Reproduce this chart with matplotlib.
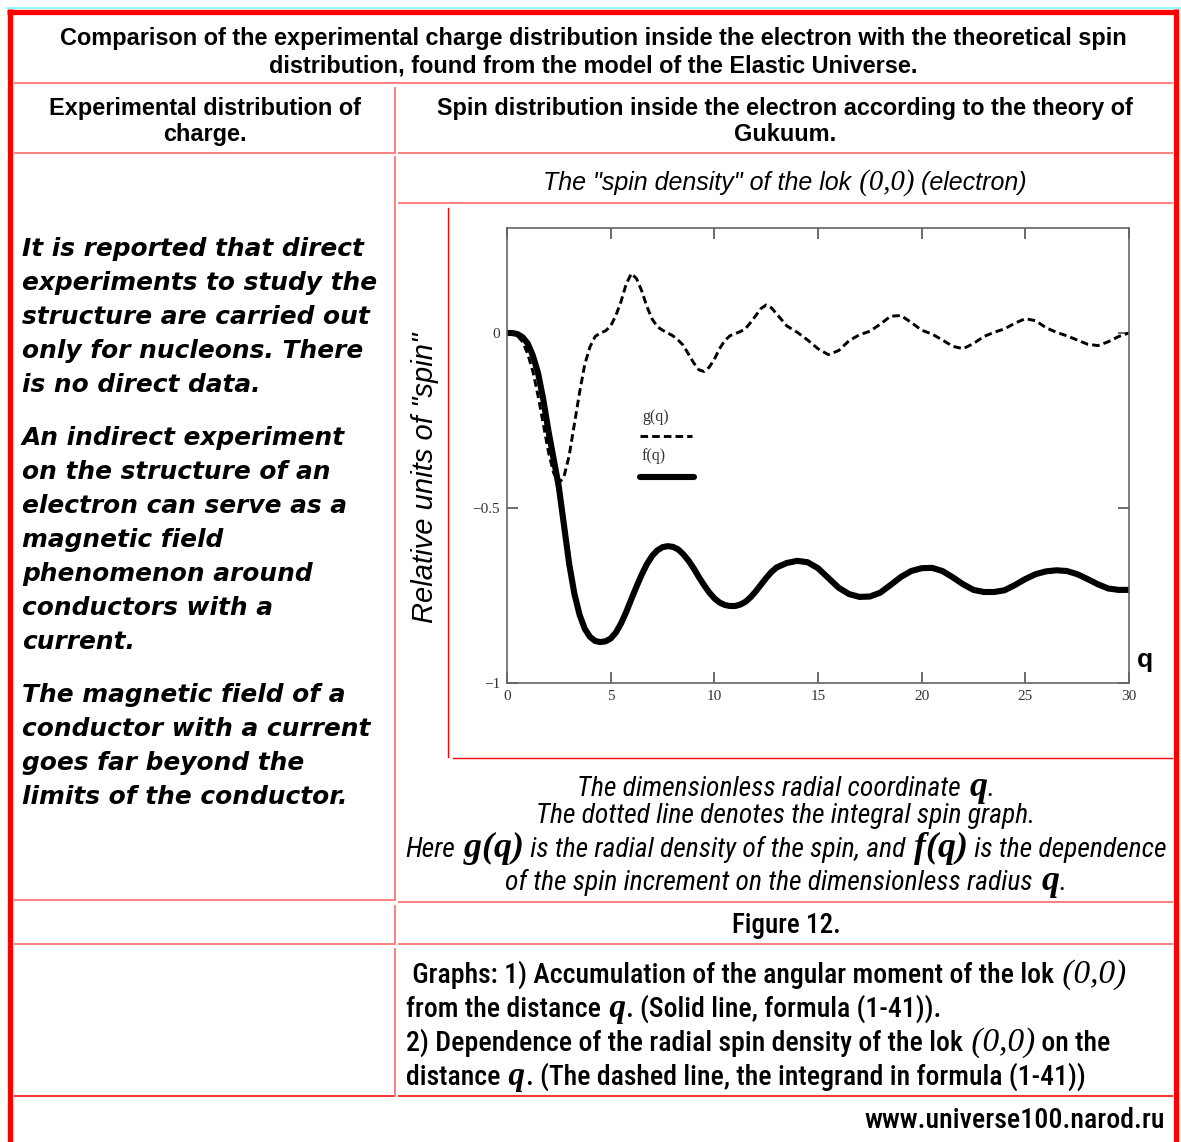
import numpy as np
import matplotlib
matplotlib.use("Agg")
import matplotlib.pyplot as plt
from matplotlib import font_manager

# curve values (finer steps where the curves bend sharply)
q = [0.0, 0.25, 0.5, 0.75, 1.0, 1.25, 1.5, 1.75, 2.0, 2.25, 2.5, 2.75, 3.0, 3.25, 3.5,
     3.75, 4.0, 4.25, 4.5, 4.75, 5.0, 5.25, 5.5, 5.75, 6.0, 6.25, 6.5, 6.75, 7.0, 7.25,
     7.5, 7.75, 8.0, 8.25, 8.5, 8.75, 9.0, 9.25, 9.5, 9.75, 10.0, 10.25, 10.5, 10.75,
     11.0, 11.25, 11.5, 11.75, 12.0, 12.25, 12.5, 12.75, 13.0,
     13.5, 14.0, 14.5, 15.0, 15.5, 16.0, 16.5, 17.0, 17.5, 18.0, 18.5, 19.0, 19.5,
     20.0, 20.5, 21.0, 21.5, 22.0, 22.5, 23.0, 23.5, 24.0, 24.5, 25.0, 25.5, 26.0,
     26.5, 27.0, 27.5, 28.0, 28.5, 29.0, 29.5, 30.0]
f_q = [0.0, 0.0, -0.003, -0.012, -0.03, -0.065, -0.115, -0.19, -0.28, -0.36, -0.44,
       -0.55, -0.66, -0.745, -0.805, -0.845, -0.868, -0.88, -0.883, -0.881, -0.873,
       -0.856, -0.83, -0.797, -0.76, -0.724, -0.69, -0.66, -0.637, -0.621, -0.612,
       -0.609, -0.611, -0.618, -0.632, -0.65, -0.672, -0.697, -0.72, -0.741, -0.758,
       -0.77, -0.777, -0.78, -0.78, -0.776, -0.768, -0.755, -0.738, -0.719, -0.70,
       -0.683, -0.67,
       -0.657, -0.651, -0.655, -0.672, -0.70, -0.728, -0.746, -0.754, -0.753, -0.742,
       -0.72, -0.697, -0.68, -0.672, -0.671, -0.68, -0.698, -0.718, -0.734, -0.74,
       -0.74, -0.735, -0.72, -0.703, -0.689, -0.681, -0.678, -0.68, -0.689, -0.703,
       -0.718, -0.73, -0.734, -0.734]
g_q = [0.0, -0.001, -0.008, -0.025, -0.06, -0.11, -0.18, -0.26, -0.34, -0.40, -0.43,
       -0.41, -0.35, -0.26, -0.17, -0.09, -0.04, -0.01, 0.0, 0.006, 0.02, 0.05, 0.09,
       0.14, 0.17, 0.155, 0.12, 0.075, 0.04, 0.018, 0.008, 0.0, -0.008, -0.02, -0.035,
       -0.06, -0.085, -0.105, -0.11, -0.098, -0.075, -0.045, -0.022, -0.008, -0.002,
       0.004, 0.012, 0.03, 0.05, 0.07, 0.08, 0.072, 0.055,
       0.02, 0.002, -0.02, -0.045, -0.062, -0.05, -0.022, -0.005, 0.005, 0.025, 0.048,
       0.05, 0.03, 0.008, -0.003, -0.02, -0.038, -0.045, -0.03, -0.01, 0.002, 0.012,
       0.028, 0.041, 0.035, 0.015, 0.002, -0.008, -0.02, -0.032, -0.036, -0.025,
       -0.01, 0.0]

x_ticks = [0, 5, 10, 15, 20, 25, 30]
y_ticks = [-1, -0.5, 0]
y_tick_labels = ["\u22121", "\u22120.5", "0"]

title_lines = ["Comparison of the experimental charge distribution inside the electron with the theoretical spin",
               "distribution, found from the model of the Elastic Universe."]
left_head = ["Experimental distribution of", "charge."]
right_head = ["Spin distribution inside the electron according to the theory of", "Gukuum."]
left_paras = [["It is reported that direct", "experiments to study the", "structure are carried out",
               "only for nucleons. There", "is no direct data."],
              ["An indirect experiment", "on the structure of an", "electron can serve as a",
               "magnetic field", "phenomenon around", "conductors with a", "current."],
              ["The magnetic field of a", "conductor with a current", "goes far beyond the",
               "limits of the conductor."]]

# pick a narrow sans if one is there
fonts = font_manager.fontManager.ttflist
names = {f.name for f in fonts}
if "Liberation Sans Narrow" in names:
    NARROW = {"family": "Liberation Sans Narrow"}
elif "Roboto Condensed" in names:
    NARROW = {"family": "Roboto Condensed"}
elif any(f.name == "DejaVu Sans" and f.stretch == "condensed" for f in fonts):
    NARROW = {"family": "DejaVu Sans", "stretch": "condensed"}
else:
    NARROW = {"family": "Liberation Sans"}
SANS = {"family": "Liberation Sans"}
SERIF = {"family": "Liberation Serif"}
WIDE = {"family": "DejaVu Sans"}

fig = plt.figure(figsize=(11.81, 11.42), dpi=100)
bg = fig.add_axes([0, 0, 1, 1])
bg.set_xlim(0, 1181)
bg.set_ylim(1142, 0)
bg.axis("off")
R = fig.canvas.get_renderer()


def part(s, font, style="normal", weight="normal", rel=1.0):
    d = dict(font)
    d["style"] = style
    d["weight"] = weight
    return (s, d, rel)


def put(parts, x, y, size, ha="left"):
    objs = []
    for s, d, rel in parts:
        objs.append(bg.text(0, y, s, fontsize=size * rel, va="baseline", ha="left",
                            color="black", **d))
    ws = [o.get_window_extent(R).width for o in objs]
    total = sum(ws)
    x0 = x - total / 2 if ha == "center" else (x - total if ha == "right" else x)
    for o, w in zip(objs, ws):
        o.set_x(x0)
        x0 += w
    return objs, total


def fit(parts, width):
    objs, total = put(parts, 0, -100, 10)
    for o in objs:
        o.remove()
    return 10 * width / total


# borders
bg.plot([7, 1181], [8, 8], color="#7fffff", lw=1.2)
bg.plot([9.5, 9.5], [9, 1142], color="red", lw=3.8, solid_capstyle="butt")
bg.plot([1175.5, 1175.5], [9, 1142], color="red", lw=3.8, solid_capstyle="butt")
bg.plot([7, 1178], [11.5, 11.5], color="red", lw=3.8, solid_capstyle="butt")

light = "#ff8080"
hl = [(83, 15, 1172), (153, 15, 393), (153, 399, 1172), (203, 399, 1172), (900, 15, 393),
      (902, 399, 1172), (944, 15, 393), (944, 399, 1172)]
for y, a, b in hl:
    bg.plot([a, b], [y, y], color=light, lw=1.4)
bg.plot([15, 393], [1096, 1096], color="#ff3030", lw=1.4)
bg.plot([399, 1172], [1096, 1096], color="#ff3030", lw=1.4)
for a, b in [(88, 153), (157, 900), (906, 944), (949, 1096)]:
    bg.plot([395, 395], [a, b], color=light, lw=1.4)
bg.plot([448, 448], [208, 757], color="red", lw=1.0)
bg.plot([453, 1172], [758, 758], color="red", lw=1.0)

# header texts
hdr = [part(title_lines[0], SANS, weight="bold")]
s = fit(hdr, 1070)
for txt, x, yb in [(title_lines[0], 593, 45), (title_lines[1], 593, 72),
                   (left_head[0], 205, 115), (left_head[1], 205, 141),
                   (right_head[0], 785, 115), (right_head[1], 785, 141)]:
    put([part(txt, SANS, weight="bold")], x, yb, s, "center")

sub = [part('The "spin density" of the lok', SANS, "italic"),
       part(" (0,0)", SERIF, "italic", rel=1.15),
       part(" (electron)", SANS, "italic")]
put(sub, 785, 190, fit(sub, 485), "center")

# left column
s = fit([part(left_paras[0][1], WIDE, "oblique", "bold")], 355)
y = 256
for para in left_paras:
    for line in para:
        put([part(line, WIDE, "oblique", "bold")], 22, y, s)
        y += 34
    y += 19

# caption under the chart
cap = [[part("The dimensionless radial coordinate", NARROW, "italic"),
        part(" q", SERIF, "italic", "bold", 1.3), part(".", NARROW, "italic")],
       [part("The dotted line denotes the integral spin graph.", NARROW, "italic")],
       [part("Here", NARROW, "italic"), part(" g(q)", SERIF, "italic", "bold", 1.3),
        part(" is the radial density of the spin, and", NARROW, "italic"),
        part(" f(q)", SERIF, "italic", "bold", 1.3),
        part(" is the dependence", NARROW, "italic")],
       [part("of the spin increment on the dimensionless radius", NARROW, "italic"),
        part(" q", SERIF, "italic", "bold", 1.3), part(".", NARROW, "italic")]]
s = fit(cap[2], 759)
for line, yb in zip(cap, [796, 823, 857, 890]):
    put(line, 786, yb, s, "center")

# figure number and notes
fig_no = [part("Figure 12.", NARROW, weight="medium")]
put(fig_no, 786, 933, fit(fig_no, 108), "center")


def nb(s):
    return part(s, NARROW, weight="medium")


def zs(s, w="normal"):
    return part(s, SERIF, "italic", w, 1.2)


notes = [[nb(" Graphs: 1) Accumulation of the angular moment of the lok"), zs(" (0,0)")],
         [nb("from the distance"), zs(" q", "bold"), nb(". (Solid line, formula (1-41)).")],
         [nb("2) Dependence of the radial spin density of the lok"), zs(" (0,0)"), nb(" on the")],
         [nb("distance"), zs(" q", "bold"), nb(". (The dashed line, the integrand in formula (1-41))")]]
s = fit(notes[3], 676)
for line, yb in zip(notes, [983, 1017, 1051, 1085]):
    put(line, 406, yb, s)

url = [nb("www.universe100.narod.ru")]
put(url, 1165, 1128, fit(url, 299), "right")

# y label and q label
bg.text(425, 478, 'Relative units of "spin"', rotation=90, ha="center", va="center",
        family="Liberation Sans", style="italic", fontsize=21)
bg.text(1145, 660, "q", ha="center", va="center", family="Liberation Sans",
        weight="bold", fontsize=19)

# legend (Mathcad style, label above line)
bg.text(642, 421, "g(q)", family="Liberation Serif", fontsize=11.5, va="baseline", color="#333333")
bg.plot([640, 692], [436, 436], color="black", lw=2.1, linestyle=(0, (2.6, 1.4)))
bg.text(642, 460, "f(q)", family="Liberation Serif", fontsize=11.5, va="baseline", color="#333333")
bg.plot([640, 694], [477, 477], color="black", lw=4.4, solid_capstyle="round")

# the chart
ax = fig.add_axes([507 / 1181, 1 - 683 / 1142, 622 / 1181, 455 / 1142])
ax.set_facecolor("none")
ax.plot(q, g_q, color="black", lw=2.1, linestyle=(0, (2.6, 1.4)))
ax.plot(q, f_q, color="black", lw=4.4, solid_capstyle="round", solid_joinstyle="round")
ax.set_xlim(0, 30)
ax.set_ylim(-1, 0.3)
ax.set_xticks(x_ticks)
ax.set_xticklabels([str(v) for v in x_ticks])
ax.set_yticks(y_ticks)
ax.set_yticklabels(y_tick_labels)
ax.tick_params(direction="in", length=8, width=1.1, color="#444444", top=True, right=True,
               labelsize=11, labelcolor="#333333", pad=5)
for lab in ax.get_xticklabels() + ax.get_yticklabels():
    lab.set_family("Liberation Serif")
for sp in ax.spines.values():
    sp.set_color("#666666")
    sp.set_linewidth(1.2)

fig.savefig("out.png", dpi=100)
